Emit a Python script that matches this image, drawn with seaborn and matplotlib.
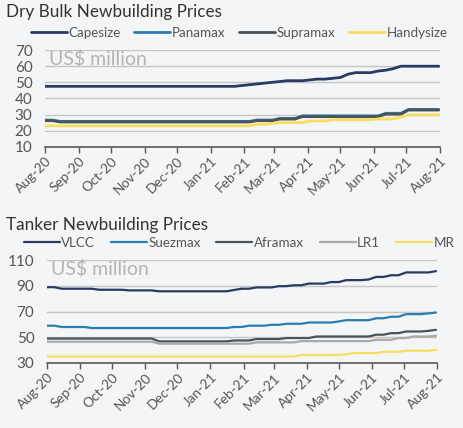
import pandas as pd
import matplotlib
matplotlib.use("Agg")
import matplotlib.pyplot as plt
import matplotlib.dates as mdates
import seaborn as sns

# weekly newbuilding prices, US$ million, Aug-20 .. Aug-21
weeks = pd.date_range("2020-08-01", periods=53, freq="7D")

capesize = [47.5] * 26 + [48, 48.5, 49, 49.5, 50, 50.5, 51, 51, 51, 51.5, 52, 52, 52.5,
                          53, 55, 56, 56, 56, 57, 57.5, 58.5, 60, 60, 60, 60, 60, 60]
panamax = [26.6] * 2 + [25.8] * 26 + [26.6] * 3 + [27.6] * 3 + [29.2] * 11 + [30.8] * 3 + [33.2] * 5
supramax = [26.2] * 2 + [25.4] * 26 + [26.2] * 3 + [27.2] * 3 + [28.7] * 11 + [30.3] * 3 + [32.8] * 5
handysize = [23] * 28 + [24] * 2 + [24.5] + [25] * 4 + [26] * 3 + [26.8] * 6 + [27.3] * 3 + [28.5] + [29.8] * 4 + [30]

vlcc = ([89] * 2 + [87.8] * 5 + [87] * 4 + [86.5] * 4 + [85.8] * 10 + [86.8] + [87.8] * 2
        + [88.8] * 3 + [89.8] * 2 + [90.5] * 2 + [91.8] * 3 + [93] * 2 + [94.5] * 3 + [95]
        + [97] * 2 + [98.3] * 2 + [100.5] * 4 + [101.5])
suezmax = ([59] * 2 + [58] * 4 + [57.2] * 19 + [58] * 2 + [59] * 3 + [59.7] * 2 + [60.5] * 3
           + [61.5] * 4 + [62.3] + [63.3] * 4 + [64.8] * 2 + [66] * 2 + [68] * 3 + [68.6] + [69.3])
aframax = ([49] * 15 + [46.8] * 10 + [47.5] * 3 + [48.6] * 4 + [49.4] * 4 + [50.6] * 8
           + [52] * 2 + [53.2] * 2 + [54.5] * 3 + [55] + [55.8])
lr1 = [46.5] * 15 + [45] * 13 + [46] * 6 + [47] * 10 + [48] * 3 + [49.4] * 2 + [50.6] * 3 + [51.2]
mr = [35] * 34 + [36.2] * 6 + [36.7] + [37.7] * 4 + [38.7] * 3 + [39.5] * 4 + [40.3]

dry_series = {"Capesize": capesize, "Panamax": panamax, "Supramax": supramax, "Handysize": handysize}
tanker_series = {"VLCC": vlcc, "Suezmax": suezmax, "Aframax": aframax, "LR1": lr1, "MR": mr}

dry_colors = {"Capesize": "#2c3a63", "Panamax": "#2a7db0", "Supramax": "#4d5257", "Handysize": "#f6de5e"}
tanker_colors = {"VLCC": "#2c3a63", "Suezmax": "#2a7db0", "Aframax": "#4d5257", "LR1": "#a9a9a9", "MR": "#f6de5e"}

bg = "#f4f5f7"
sns.set_theme(style="white")
plt.rcParams["font.family"] = ["Lato", "DejaVu Sans"]


def to_long(series):
    rows = []
    for name, vals in series.items():
        for d, v in zip(weeks, vals):
            rows.append({"date": d, "price": v, "type": name})
    return pd.DataFrame(rows)


def draw_panel(ax, series, colors, yticks, lw, title, title_y, leg_y, colspacing):
    df = to_long(series)
    sns.lineplot(data=df, x="date", y="price", hue="type", palette=colors,
                 hue_order=list(series.keys()), linewidth=lw, ax=ax, zorder=3)
    ax.set_facecolor(bg)
    ax.set_xlim(pd.Timestamp("2020-08-01"), pd.Timestamp("2021-08-01"))
    ax.set_ylim(yticks[0], yticks[-1])
    ax.set_yticks(yticks)
    ax.yaxis.grid(True, color="#c6c6c6", lw=1, zorder=0)
    ax.xaxis.grid(False)
    for s in ["left", "right", "top"]:
        ax.spines[s].set_visible(False)
    ax.spines["bottom"].set_color("#5a5a5a")
    ax.spines["bottom"].set_linewidth(1.2)
    ax.xaxis.set_major_locator(mdates.MonthLocator())
    ax.xaxis.set_major_formatter(mdates.DateFormatter("%b-%y"))
    ax.tick_params(axis="x", bottom=True, length=4, width=1, color="#5a5a5a",
                   labelsize=9.8, labelcolor="#555555", pad=2)
    ax.tick_params(axis="y", left=False, labelsize=11, labelcolor="#555555", pad=3)
    for lab in ax.get_xticklabels():
        lab.set_rotation(45)
        lab.set_ha("right")
        lab.set_rotation_mode("anchor")
    ax.set_xlabel("")
    ax.set_ylabel("")
    ax.text(0.01, 1.0, "US$ million", transform=ax.transAxes, ha="left", va="top",
            fontsize=14, color="#b4b4b4")
    fig.text(0.012, title_y, title, ha="left", va="center", fontsize=12.3, color="#333333")
    ax.legend(loc="center", bbox_to_anchor=(0.515, leg_y), bbox_transform=fig.transFigure,
              ncol=len(series), frameon=False, fontsize=9.6, handlelength=2.7,
              handletextpad=0.1, columnspacing=colspacing, labelcolor="#555555")


fig = plt.figure(figsize=(4.64, 4.28), dpi=100, facecolor=bg)
ax1 = fig.add_axes([0.097, 0.657, 0.851, 0.226])
ax2 = fig.add_axes([0.101, 0.152, 0.841, 0.240])

draw_panel(ax1, dry_series, dry_colors, [10, 20, 30, 40, 50, 60, 70], 2.0,
           "Dry Bulk Newbuilding Prices", 0.972, 0.923, 1.05)
draw_panel(ax2, tanker_series, tanker_colors, [30, 50, 70, 90, 110], 1.6,
           "Tanker Newbuilding Prices", 0.474, 0.432, 1.2)

fig.savefig("out.png", dpi=100, facecolor=bg)
